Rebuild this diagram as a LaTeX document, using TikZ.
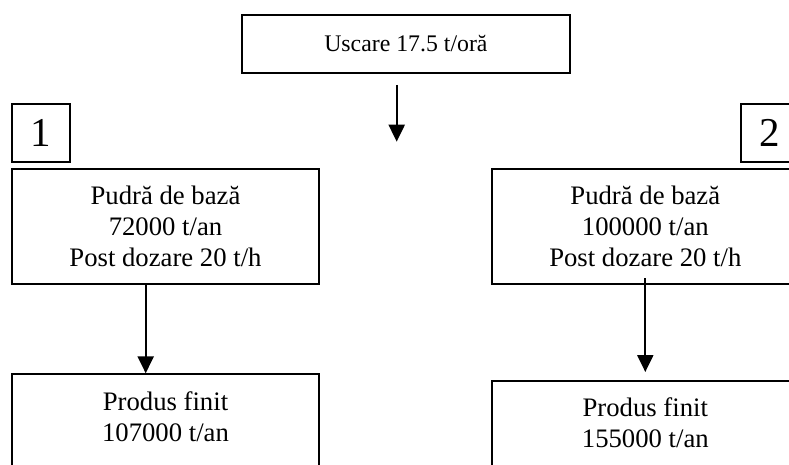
\documentclass[tikz,border=0pt]{standalone}
\usepackage{fontspec}
\setmainfont{Liberation Serif}
\usepackage{tikz}
\usetikzlibrary{positioning,arrows.meta}
\tikzset{
    stage/.style={rectangle, draw, line width=2pt, minimum width=307.6pt, minimum height=115pt, inner sep=0pt, align=center, font=\fontsize{26.7}{31}\selectfont},
    dryer/.style={stage, minimum width=328.3pt, minimum height=57.7pt, font=\fontsize{23.8}{28}\selectfont},
    line tag/.style={rectangle, draw, line width=2pt, minimum width=58.3pt, minimum height=57.7pt, inner sep=0pt, font=\fontsize{41}{45}\selectfont},
    flow/.style={-{Triangle[length=17pt, width=16pt]}, line width=2.2pt}
}

\begin{document}
\begin{tikzpicture}[x=1pt, y=1pt]
    \useasboundingbox (0,0) rectangle (789,464);
    \clip (0,0) rectangle (789,464);

    % Drying stage on top
    \node[dryer] (uscare) at (405.9,420.2) {Uscare 17.5 t/oră};
    \coordinate (uscareOut) at (396.7,379);
    \coordinate (uscareEnd) at (396.7,322.3);
    \draw[flow] (uscareOut) -- (uscareEnd);

    % Line 1
    \node[line tag] (tag1) at (40.9,331.2) {1};
    \node[stage] (pudra1) at (165.5,237.5) {Pudră de bază\\72000 t/an\\Post dozare 20 t/h};
    \node[stage, anchor=north] (produs1) at (165.5,90.7) {Produs finit\\107000 t/an\\\mbox{}};
    \draw[flow] ([xshift=-19.8pt]pudra1.south) -- ([xshift=-19.8pt]produs1.north);

    % Line 2
    \node[line tag] (tag2) at (769.9,331.2) {2};
    \node[stage] (pudra2) at (645.3,237.5) {Pudră de bază\\100000 t/an\\Post dozare 20 t/h};
    \node[stage, anchor=north] (produs2) at (645.3,84) {Produs finit\\155000 t/an\\\mbox{}};
    \draw[flow] ([yshift=7pt]pudra2.south) -- ([yshift=8pt]produs2.north);
\end{tikzpicture}
\end{document}
